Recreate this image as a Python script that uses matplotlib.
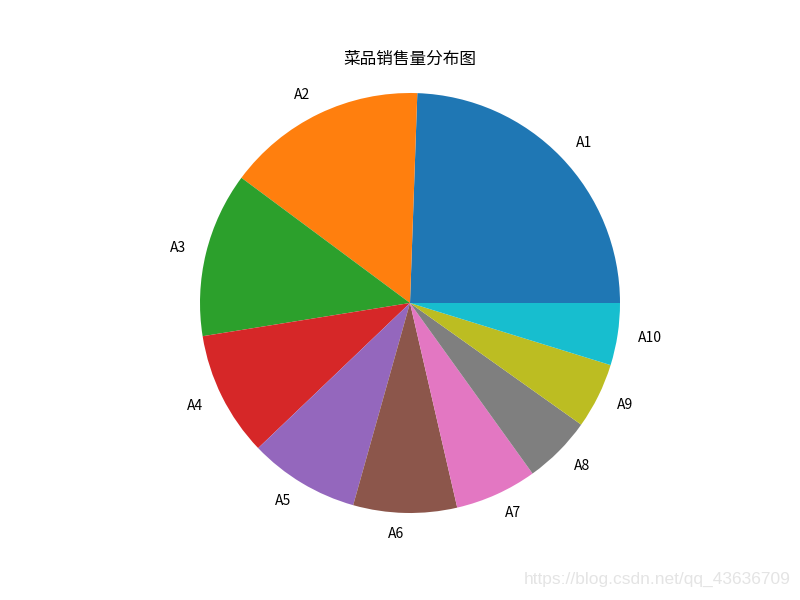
import matplotlib
matplotlib.use("Agg")
import matplotlib.pyplot as plt

plt.rcParams['font.family'] = ['Noto Sans CJK SC', 'DejaVu Sans']
plt.rcParams['axes.unicode_minus'] = False

# 菜品销量 (roughly)
labels = ['A1', 'A2', 'A3', 'A4', 'A5', 'A6', 'A7', 'A8', 'A9', 'A10']
sales = [880, 554, 457, 346, 306, 287, 227, 189, 182, 172]

fig = plt.figure(figsize=(8, 6), dpi=100)
ax = fig.add_subplot(111)
ax.pie(sales, labels=labels)
ax.set_aspect('equal', adjustable='datalim')
ax.set_xlim(-1.1, 1.1)
ax.set_ylim(-1.1, 1.1)
ax.set_title('菜品销售量分布图')

# csdn watermark
fig.text(0.988, 0.022, 'https://blog.csdn.net/qq_43636709', ha='right', va='bottom',
         color='#e4e4e4', fontsize=12.5, family=['Liberation Sans'])

fig.savefig('out.png', dpi=100)
